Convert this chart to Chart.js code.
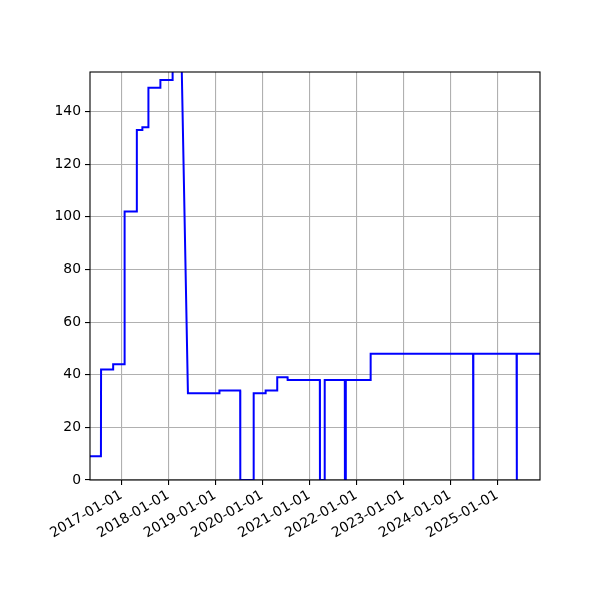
<!DOCTYPE html>
<html>
<head>
<meta charset="utf-8">
<script src="https://cdn.jsdelivr.net/npm/chart.js@4/dist/chart.umd.min.js"></script>
<style>
  html, body { margin: 0; padding: 0; background: #fff; }
  #wrap { width: 600px; height: 600px; }
</style>
</head>
<body>
<div id="wrap"><canvas id="chart" width="600" height="600"></canvas></div>
<script>
const dates = [
    '2016-05-03', '2016-07-27', '2016-07-28', '2016-10-29', '2016-10-30',
    '2017-01-26', '2017-01-27', '2017-05-01', '2017-05-02', '2017-06-13',
    '2017-06-14', '2017-07-30', '2017-07-31', '2017-10-31', '2017-11-01',
    '2018-02-03', '2018-02-04', '2018-06-03', '2019-02-02', '2019-02-03',
    '2019-07-14', '2019-07-15', '2019-10-26', '2019-10-27', '2020-01-27',
    '2020-01-28', '2020-04-26', '2020-04-27', '2020-07-16', '2020-07-17',
    '2021-03-24', '2021-03-25', '2021-04-30', '2021-05-01', '2021-10-04',
    '2021-10-05', '2021-10-11', '2021-10-12', '2022-04-22', '2022-04-23',
    '2024-06-27', '2024-06-28', '2024-06-29', '2024-06-30', '2025-05-31',
    '2025-06-01', '2025-06-02', '2025-06-03', '2025-12-31'
];
const values = [
    9, 9, 42, 42, 44,
    44, 102, 102, 133, 133,
    134, 134, 149, 149, 152,
    152, 338, 33, 33, 34,
    34, 0, 0, 33, 33,
    34, 34, 39, 39, 38,
    38, 0, 0, 38, 38,
    0, 0, 38, 38, 48,
    48, 0, 0, 48, 48,
    0, 0, 48, 48
];
const xTickYears = [2017, 2018, 2019, 2020, 2021, 2022, 2023, 2024, 2025];
const yTicks = [0, 20, 40, 60, 80, 100, 120, 140];
const xMin = '2016-05-03';
const xMax = '2025-11-29';
const yMax = 155;

const points = dates.map((d, i) => ({ x: Date.parse(d), y: values[i] }));

const tickFont = { family: 'DejaVu Sans', size: 13.9 };

// black box round the plot area, like the axes spines
const framePlugin = {
    id: 'frame',
    afterDatasetsDraw(chart) {
        const a = chart.chartArea;
        const ctx = chart.ctx;
        ctx.save();
        ctx.strokeStyle = '#000';
        ctx.lineWidth = 1.1;
        ctx.strokeRect(a.left, a.top, a.right - a.left, a.bottom - a.top);
        ctx.restore();
    }
};

new Chart(document.getElementById('chart'), {
    type: 'line',
    data: {
        datasets: [{
            data: points,
            borderColor: '#0000ff',
            borderWidth: 2,
            pointRadius: 0,
            tension: 0,
            fill: false
        }]
    },
    options: {
        responsive: false,
        animation: false,
        devicePixelRatio: 1,
        layout: { padding: { top: 72, right: 60, left: 0, bottom: 0 } },
        plugins: {
            legend: { display: false },
            tooltip: { enabled: false }
        },
        scales: {
            x: {
                type: 'linear',
                min: Date.parse(xMin),
                max: Date.parse(xMax),
                afterBuildTicks: (scale) => {
                    scale.ticks = xTickYears.map(y => ({ value: Date.UTC(y, 0, 1) }));
                },
                afterFit: (scale) => { scale.height = 120; },
                grid: {
                    color: '#b0b0b0',
                    lineWidth: 1.1,
                    tickColor: '#000',
                    tickLength: 5,
                    tickWidth: 1.1
                },
                border: { display: false },
                ticks: {
                    color: '#000',
                    font: tickFont,
                    padding: 2,
                    minRotation: 30,
                    maxRotation: 30,
                    autoSkip: false,
                    callback: (v) => new Date(v).toISOString().slice(0, 10)
                }
            },
            y: {
                min: 0,
                max: yMax,
                afterBuildTicks: (scale) => {
                    scale.ticks = yTicks.map(v => ({ value: v }));
                },
                afterFit: (scale) => { scale.width = 90; },
                grid: {
                    color: '#b0b0b0',
                    lineWidth: 1.1,
                    tickColor: '#000',
                    tickLength: 5,
                    tickWidth: 1.1
                },
                border: { display: false },
                ticks: {
                    color: '#000',
                    font: tickFont,
                    padding: 4
                }
            }
        }
    },
    plugins: [framePlugin]
});
</script>
</body>
</html>
